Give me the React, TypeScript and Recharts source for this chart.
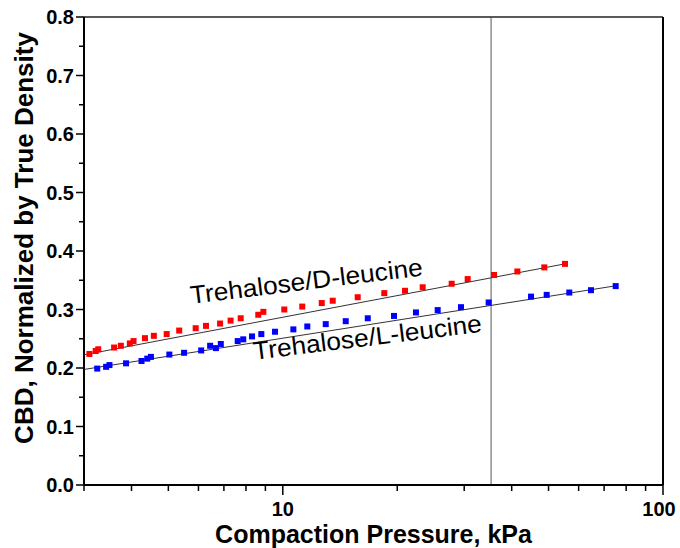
import React from 'react';
import { ScatterChart, Scatter, XAxis, YAxis, ReferenceLine, ReferenceDot } from 'recharts';

const dLeuX = [3.10, 3.22, 3.27, 3.60, 3.75, 3.96, 4.05, 4.34, 4.58, 4.95, 5.34, 5.90, 6.28, 6.84, 7.29, 7.75, 8.62, 8.89, 10.09, 11.25, 12.66, 13.53, 15.74, 18.49, 20.96, 23.33, 27.81, 30.64, 35.94, 41.39, 48.73, 55.24];
const dLeuY = [0.224, 0.229, 0.232, 0.235, 0.238, 0.242, 0.246, 0.251, 0.255, 0.258, 0.264, 0.268, 0.272, 0.276, 0.281, 0.285, 0.291, 0.296, 0.300, 0.305, 0.311, 0.315, 0.321, 0.328, 0.332, 0.338, 0.344, 0.352, 0.359, 0.365, 0.372, 0.378];

const lLeuX = [3.25, 3.43, 3.50, 3.87, 4.25, 4.40, 4.50, 5.03, 5.50, 6.10, 6.44, 6.67, 6.87, 7.61, 7.87, 8.30, 8.78, 9.54, 10.66, 11.60, 12.97, 14.64, 16.73, 19.61, 22.40, 25.55, 29.42, 34.79, 44.97, 49.44, 56.69, 64.65, 75.09];
const lLeuY = [0.199, 0.202, 0.205, 0.208, 0.212, 0.216, 0.219, 0.223, 0.226, 0.230, 0.238, 0.234, 0.241, 0.246, 0.249, 0.254, 0.258, 0.262, 0.266, 0.271, 0.275, 0.280, 0.285, 0.289, 0.295, 0.299, 0.304, 0.312, 0.322, 0.325, 0.329, 0.333, 0.340];

const dFitX = [3, 55.24];
const dFitY = [0.2225, 0.378];
const lFitX = [3, 76];
const lFitY = [0.1975, 0.341];

const xTicks = [3, 4, 5, 6, 7, 8, 9, 10, 20, 30, 40, 50, 60, 70, 80, 90, 100];
const xLabeled = [10, 100];
const yTicks = [0, 0.05, 0.1, 0.15, 0.2, 0.25, 0.3, 0.35, 0.4, 0.45, 0.5, 0.55, 0.6, 0.65, 0.7, 0.75, 0.8];

const markerLineX = 35.3;
const FONT = '"Liberation Sans", Arial, sans-serif';

const zip = (xs: number[], ys: number[]) => xs.map((x, i) => ({ x, y: ys[i] }));
const dLeu = zip(dLeuX, dLeuY);
const lLeu = zip(lLeuX, lLeuY);
const dFit = zip(dFitX, dFitY);
const lFit = zip(lFitX, lFitY);

const square = (color: string) => (p: any) => (
  <rect x={p.cx - 3} y={p.cy - 3} width={6} height={6} fill={color} />
);
const noShape = () => <g />;

const XTick = (p: any) => {
  const v = p.payload.value;
  const major = xLabeled.includes(v);
  const shift = v === 100 ? -4 : 0;
  return (
    <g>
      <line x1={p.x} y1={p.y} x2={p.x} y2={p.y + (major ? 10 : 6)} stroke="#000" strokeWidth={1.5} />
      {major && (
        <text x={p.x + shift} y={p.y + 31} textAnchor="middle" fontFamily={FONT} fontWeight="bold" fontSize={20} fill="#000">
          {v}
        </text>
      )}
    </g>
  );
};

const YTick = (p: any) => {
  const major = p.index % 2 === 0;
  const v = p.payload.value;
  return (
    <g>
      <line x1={p.x - (major ? 8 : 5)} y1={p.y} x2={p.x} y2={p.y} stroke="#000" strokeWidth={1.5} />
      {major && (
        <text x={p.x - 10} y={p.y + 7} textAnchor="end" fontFamily={FONT} fontWeight="bold" fontSize={20} fill="#000">
          {v.toFixed(1)}
        </text>
      )}
    </g>
  );
};

const annot = (label: string, width: number) => (p: any) => (
  <text
    x={p.cx}
    y={p.cy}
    textAnchor="middle"
    transform={`rotate(-7 ${p.cx} ${p.cy})`}
    fontFamily={FONT}
    fontSize={25}
    fill="#000"
    textLength={width}
    lengthAdjust="spacingAndGlyphs"
  >
    {label}
  </text>
);

export default function App() {
  return (
    <div style={{ width: 680, height: 548, fontFamily: FONT, background: '#fff' }}>
      <style>{'html,body{margin:0;padding:0;overflow:hidden;}'}</style>
      <ScatterChart width={680} height={548} margin={{ top: 17, right: 17, bottom: 0, left: 0 }}>
        <XAxis
          dataKey="x"
          type="number"
          scale="log"
          domain={[3, 100]}
          ticks={xTicks}
          interval={0}
          allowDataOverflow
          height={63}
          tickSize={0}
          tickMargin={0}
          tickLine={false}
          tick={<XTick />}
          axisLine={{ stroke: '#000', strokeWidth: 2 }}
          label={{
            content: (props: any) => {
              const vb = props.viewBox;
              return (
                <text x={vb.x + vb.width / 2} y={vb.y + 58} textAnchor="middle" fontFamily={FONT} fontWeight="bold" fontSize={25} fill="#000">
                  Compaction Pressure, kPa
                </text>
              );
            },
          }}
        />
        <YAxis
          dataKey="y"
          type="number"
          domain={[0, 0.8]}
          ticks={yTicks}
          interval={0}
          width={84}
          tickSize={0}
          tickMargin={0}
          tickLine={false}
          tick={<YTick />}
          axisLine={{ stroke: '#000', strokeWidth: 2 }}
          label={{
            content: (props: any) => {
              const vb = props.viewBox;
              const cx = 33;
              const cy = vb.y + vb.height / 2 - 13;
              return (
                <text x={cx} y={cy} transform={`rotate(-90 ${cx} ${cy})`} textAnchor="middle" fontFamily={FONT} fontWeight="bold" fontSize={26} fill="#000">
                  CBD, Normalized by True Density
                </text>
              );
            },
          }}
        />
        <ReferenceLine y={0.8} stroke="#222" strokeWidth={1.5} />
        <ReferenceLine x={100} stroke="#000" strokeWidth={2} />
        <ReferenceLine x={markerLineX} stroke="#555" strokeWidth={1} />
        <Scatter data={dFit} line={{ stroke: '#333', strokeWidth: 1 }} shape={noShape} isAnimationActive={false} />
        <Scatter data={lFit} line={{ stroke: '#333', strokeWidth: 1 }} shape={noShape} isAnimationActive={false} />
        <Scatter data={dLeu} fill="#ff0000" shape={square('#ff0000')} isAnimationActive={false} />
        <Scatter data={lLeu} fill="#0000ff" shape={square('#0000ff')} isAnimationActive={false} />
        <ReferenceDot x={11.6} y={0.334} r={1} shape={annot('Trehalose/D-leucine', 234)} />
        <ReferenceDot x={16.8} y={0.238} r={1} shape={annot('Trehalose/L-leucine', 230)} />
      </ScatterChart>
    </div>
  );
}
